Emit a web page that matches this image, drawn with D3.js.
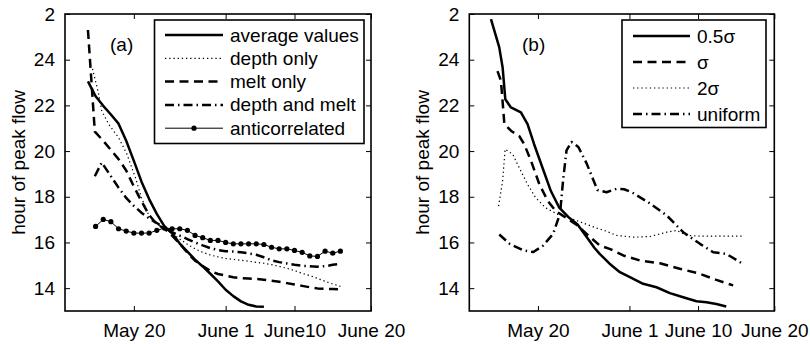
<!DOCTYPE html>
<html><head><meta charset="utf-8">
<script src="https://cdn.jsdelivr.net/npm/d3@7"></script>
<style>
body{margin:0;background:#fff}
text{font-family:"Liberation Sans",Arial,Helvetica,sans-serif;fill:#000}
</style>
</head><body>
<svg id="chart" width="810" height="344"></svg>
<script>
// ---------- axis data (x = day counted from May 1) ----------
const xDomain = [11, 51];
const yDomain = [13, 26];
const xTickDays = [20, 32, 41, 51];
const xTickLabelsA = ["May 20", "June 1", "June10", "June 20"];
const xTickLabelsB = ["May 20", "June 1", "June 10", "June 20"];
const yTickValues = [14, 16, 18, 20, 22, 24, 26];
const yTickLabels = ["14", "16", "18", "20", "22", "24", "2"];
const yAxisTitle = "hour of peak flow";

// ---------- panel (a) ----------
const avgDays = [14,15,16,17,18,19,20,21,22,23,24,25,26,27,28,29,30,31,32,33,34,35,36,37];
const avgHours = [23.05,22.4,21.98,21.6,21.2,20.45,19.57,18.66,17.9,17.25,16.7,16.4,15.95,15.6,15.25,14.95,14.63,14.3,13.93,13.65,13.42,13.27,13.2,13.19];

const depthDays = [14.6,15.4,15.8,16.7,18,19.1,20.2,21,21.9,23,24,25,26,27,28,29,30,31,32,33,34,35,36,37,38,39,40,41,42,43,44,45,46,47];
const depthHours = [23.6,22.5,21.76,21.18,20.59,19.86,18.84,17.96,17.23,16.8,16.62,16.4,16.15,15.92,15.72,15.57,15.45,15.37,15.3,15.26,15.22,15.18,15.13,15.09,15.03,14.95,14.87,14.77,14.65,14.55,14.43,14.3,14.18,14.08];

const meltDays = [14,14.9,16,17,18,19,20,21,22,23,24,25,26,27,28,29,30,31,32,33,34,35,36,37,38,39,40,41,42,43,44,45,46,47];
const meltHours = [25.3,20.85,20.45,20.05,19.65,19.15,18.45,17.8,17.2,16.8,16.6,16.3,15.95,15.55,15.2,14.97,14.75,14.62,14.55,14.48,14.44,14.42,14.4,14.37,14.32,14.28,14.22,14.16,14.1,14.04,13.99,13.97,13.96,13.95];

const depthMeltDays = [14.9,15.8,17,18,19,20,21,22,23,24,25,26,27,28,29,30,31,32,33,34,35,36,37,38,39,40,41,42,43,44,45,46,47];
const depthMeltHours = [18.9,19.5,18.9,18.4,17.95,17.6,17.3,17.05,16.85,16.65,16.45,16.3,16.15,16.0,15.87,15.75,15.67,15.62,15.6,15.57,15.52,15.46,15.35,15.22,15.14,15.08,15.02,14.98,14.96,14.94,14.96,15.02,15.07];

const antiDays = [15,16,17,18,19,20,21,22,23,24,25,26,27,28,29,30,31,32,33,34,35,36,37,38,39,40,41,42,43,44,45,46,47];
const antiHours = [16.7,17.01,16.91,16.6,16.5,16.41,16.41,16.41,16.53,16.63,16.6,16.6,16.53,16.31,16.21,16.09,16.09,16.0,15.94,15.94,15.94,15.94,15.91,15.79,15.72,15.72,15.65,15.57,15.41,15.39,15.62,15.53,15.62];

// ---------- panel (b) ----------
const halfSigmaDays = [13.84,14.93,15.37,15.72,16.46,17.77,18.64,19.5,20.6,21.7,22.8,24.1,25.2,26.3,27.4,28.1,29.4,30.75,32.06,33.8,35.55,37.3,39.05,40.8,42.1,43.4,44.7];
const halfSigmaHours = [25.78,24.54,23.66,22.27,21.91,21.69,21.18,20.3,19.27,18.25,17.52,17.08,16.79,16.28,15.77,15.5,15.07,14.7,14.48,14.19,14.04,13.78,13.6,13.43,13.38,13.31,13.2];

const sigmaDays = [14.7,15.15,15.6,16.5,17.55,18.2,19.1,20.2,21.3,22.35,23.7,25.0,26.7,28.1,29.4,31.2,33.4,36.0,38.6,41.25,43.4,45.6];
const sigmaHours = [23.5,23.08,21.18,20.88,20.66,20.3,19.57,18.54,17.81,17.37,17.08,16.79,16.28,15.87,15.72,15.43,15.21,15.09,14.85,14.63,14.36,14.12];

const twoSigmaDays = [14.84,15.37,15.7,16.7,17.55,18.64,19.7,21.0,22.6,24.1,25.85,27.6,28.9,30.3,32.5,34.7,36.9,38.2,39.5,41.25,46.9];
const twoSigmaHours = [17.59,18.69,20.08,19.86,19.27,18.54,17.96,17.52,17.23,17.08,16.86,16.64,16.5,16.31,16.23,16.26,16.45,16.53,16.31,16.28,16.28];

const uniformDays = [14.93,16.3,18.1,19.4,20.7,22.0,22.9,23.3,23.75,24.4,25.3,26.4,27.8,29.0,30.3,31.3,32.3,34.5,36.9,39.05,41.25,43.0,44.7,46.7];
const uniformHours = [16.35,15.94,15.65,15.58,15.87,16.38,17.26,18.72,20.03,20.4,20.18,19.45,18.3,18.2,18.35,18.33,18.2,17.75,17.18,16.45,15.94,15.57,15.5,15.1];

const legendA = ["average values", "depth only", "melt only", "depth and melt", "anticorrelated"];
const legendB = ["0.5\u03c3", "\u03c3", "2\u03c3", "uniform"];

// ---------- styles ----------
const STY = {
  solid:   {w: 2.5, dash: null},
  dotted:  {w: 1.2, dash: "1.3,2.9"},
  dashed:  {w: 2.5, dash: "9,5.5"},
  dashdot: {w: 2.5, dash: "9,4,1.5,4"},
  thin:    {w: 1.0, dash: null}
};

const svg = d3.select("#chart");
svg.append("rect").attr("width", 810).attr("height", 344).attr("fill", "#fff");

function drawPanel(cfg) {
  const x = d3.scaleLinear().domain(xDomain).range([cfg.left, cfg.right]);
  const y = d3.scaleLinear().domain(yDomain).range([cfg.bottom, cfg.top]);
  const g = svg.append("g");

  const fs = 19;
  const bottomAx = d3.axisBottom(x).tickValues(xTickDays).tickSizeInner(-5).tickSizeOuter(0).tickPadding(13)
    .tickFormat((d, i) => cfg.xLabels[i]);
  const leftAx = d3.axisLeft(y).tickValues(yTickValues).tickSizeInner(-5).tickSizeOuter(0).tickPadding(10)
    .tickFormat((d, i) => yTickLabels[i]);
  const topAx = d3.axisTop(x).tickValues(xTickDays).tickSizeInner(-5).tickSizeOuter(0).tickFormat("");
  const rightAx = d3.axisRight(y).tickValues(yTickValues).tickSizeInner(-5).tickSizeOuter(0).tickFormat("");

  const ax = [
    [bottomAx, `translate(0,${cfg.bottom})`],
    [leftAx, `translate(${cfg.left},0)`],
    [topAx, `translate(0,${cfg.top})`],
    [rightAx, `translate(${cfg.right},0)`]
  ];
  ax.forEach(([a, t]) => {
    const ag = g.append("g").attr("transform", t).call(a);
    ag.select(".domain").remove();
    ag.selectAll(".tick line").attr("stroke", "#000").attr("stroke-width", 1);
    ag.selectAll(".tick text").style("font-size", fs + "px").attr("fill", "#000")
      .style("font-family", '"Liberation Sans",Arial,sans-serif');
  });

  g.append("text")
    .attr("transform", `translate(${cfg.left - 47},${(cfg.top + cfg.bottom) / 2}) rotate(-90)`)
    .attr("text-anchor", "middle").attr("dominant-baseline", "central")
    .style("font-size", fs + "px").text(yAxisTitle);

  const line = d3.line().x(d => x(d[0])).y(d => y(d[1]));
  cfg.series.forEach(s => {
    const pts = s.days.map((d, i) => [d, s.hours[i]]);
    const st = STY[s.style];
    g.append("path").datum(pts).attr("d", line)
      .attr("fill", "none").attr("stroke", "#000")
      .attr("stroke-width", st.w)
      .attr("stroke-dasharray", st.dash)
      .attr("stroke-linejoin", "round");
    if (s.markers) {
      g.selectAll(null).data(pts).enter().append("circle")
        .attr("cx", d => x(d[0])).attr("cy", d => y(d[1])).attr("r", 2.6).attr("fill", "#000");
    }
  });

  // frame
  g.append("rect").attr("x", cfg.left).attr("y", cfg.top)
    .attr("width", cfg.right - cfg.left).attr("height", cfg.bottom - cfg.top)
    .attr("fill", "none").attr("stroke", "#000").attr("stroke-width", 1.6);

  // panel label
  g.append("text").attr("x", cfg.tagX).attr("y", 51).style("font-size", fs + "px").text(cfg.tag);

  // legend
  const L = cfg.legend;
  g.append("rect").attr("x", L.x0).attr("y", L.y0).attr("width", L.x1 - L.x0).attr("height", L.y1 - L.y0)
    .attr("fill", "#fff").attr("stroke", "#000").attr("stroke-width", 1.6);
  cfg.series.forEach((s, i) => {
    const yy = L.firstRow + i * L.step;
    const st = STY[s.style];
    g.append("line").attr("x1", L.lx0).attr("x2", L.lx1).attr("y1", yy).attr("y2", yy)
      .attr("stroke", "#000").attr("stroke-width", st.w).attr("stroke-dasharray", st.dash);
    if (s.markers) {
      g.append("circle").attr("cx", (L.lx0 + L.lx1) / 2).attr("cy", yy).attr("r", 2.6).attr("fill", "#000");
    }
    g.append("text").attr("x", L.tx).attr("y", yy).attr("dominant-baseline", "central")
      .style("font-size", fs + "px").text(cfg.legendLabels[i]);
  });
}

drawPanel({
  left: 65, right: 371, top: 14, bottom: 311,
  xLabels: xTickLabelsA, tag: "(a)", tagX: 110,
  legendLabels: legendA,
  legend: {x0: 154.5, x1: 364, y0: 20, y1: 143.5, firstRow: 35, step: 23.3, lx0: 165, lx1: 223, tx: 230},
  series: [
    {days: avgDays, hours: avgHours, style: "solid"},
    {days: depthDays, hours: depthHours, style: "dotted"},
    {days: meltDays, hours: meltHours, style: "dashed"},
    {days: depthMeltDays, hours: depthMeltHours, style: "dashdot"},
    {days: antiDays, hours: antiHours, style: "thin", markers: true}
  ]
});

drawPanel({
  left: 469.3, right: 774.3, top: 14, bottom: 311,
  xLabels: xTickLabelsB, tag: "(b)", tagX: 522,
  legendLabels: legendB,
  legend: {x0: 622, x1: 766, y0: 20, y1: 127.5, firstRow: 36, step: 26, lx0: 633, lx1: 690, tx: 697},
  series: [
    {days: halfSigmaDays, hours: halfSigmaHours, style: "solid"},
    {days: sigmaDays, hours: sigmaHours, style: "dashed"},
    {days: twoSigmaDays, hours: twoSigmaHours, style: "dotted"},
    {days: uniformDays, hours: uniformHours, style: "dashdot"}
  ]
});
</script>
</body></html>
